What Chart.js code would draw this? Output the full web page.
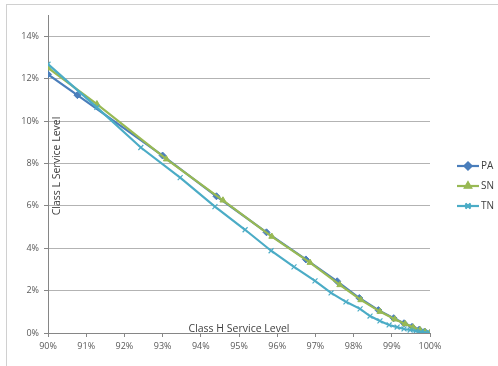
<!DOCTYPE html>
<html>
<head>
<meta charset="utf-8">
<script src="https://cdn.jsdelivr.net/npm/chart.js@4.4.1/dist/chart.umd.min.js"></script>
<style>
  html, body { margin: 0; padding: 0; background: #ffffff; }
  #wrap { width: 498px; height: 366px; position: relative; }
</style>
</head>
<body>
<div id="wrap"><canvas id="c" width="498" height="366"></canvas></div>
<script>
// Class H service level (x, %) against class L service level (y, %)
const seriesNames = ["PA", "SN", "TN"];

const paX = [90, 90.77, 93.0, 94.41, 95.72, 96.75, 97.57, 98.15, 98.65, 99.05, 99.32, 99.53, 99.72, 99.86, 100];
const paY = [12.2, 11.22, 8.37, 6.45, 4.75, 3.47, 2.44, 1.65, 1.08, 0.70, 0.46, 0.29, 0.16, 0.07, 0];

const snX = [90, 91.28, 93.1, 94.58, 95.86, 96.86, 97.64, 98.19, 98.69, 99.08, 99.35, 99.56, 99.74, 99.87, 100];
const snY = [12.5, 10.8, 8.2, 6.26, 4.55, 3.32, 2.27, 1.56, 1.01, 0.65, 0.43, 0.27, 0.14, 0.06, 0];

const tnX = [90, 91.28, 92.43, 93.46, 94.37, 95.16, 95.84, 96.44, 96.99, 97.41, 97.80, 98.17, 98.43, 98.69, 98.93, 99.14, 99.32, 99.48, 99.63, 99.76, 99.87, 100];
const tnY = [12.68, 10.64, 8.75, 7.33, 5.96, 4.87, 3.88, 3.12, 2.46, 1.89, 1.47, 1.14, 0.80, 0.57, 0.38, 0.28, 0.19, 0.14, 0.09, 0.05, 0.02, 0];

const xTickValues = [90, 91, 92, 93, 94, 95, 96, 97, 98, 99, 100];
const yTickValues = [0, 2, 4, 6, 8, 10, 12, 14];

const xTitle = "Class H Service Level";
const yTitle = "Class L Service Level";

const colors = ["#4a7ebb", "#98b954", "#4bacc6"];
const markers = ["rectRot", "triangle", "crossRot"];

const FONT = "'Open Sans', 'Liberation Sans', sans-serif";

function pts(xs, ys) { return xs.map((x, i) => ({ x: x, y: ys[i] })); }

const seriesData = [pts(paX, paY), pts(snX, snY), pts(tnX, tnY)];

const datasets = seriesNames.map((name, i) => ({
  label: name,
  data: seriesData[i],
  showLine: true,
  borderColor: colors[i],
  backgroundColor: colors[i],
  borderWidth: 2.2,
  pointStyle: markers[i],
  pointRadius: i === 2 ? 3.5 : 3.5,
  pointBorderWidth: i === 2 ? 1.2 : 1,
  pointBorderColor: colors[i],
  pointBackgroundColor: colors[i],
  tension: 0,
  order: 3 - i
}));

// Frame, axis titles and legend drawn inside the canvas
const decorations = {
  id: 'decorations',
  beforeDraw(chart) {
    const ctx = chart.ctx;
    ctx.save();
    ctx.strokeStyle = '#d0d0d0';
    ctx.lineWidth = 1;
    ctx.strokeRect(6.5, 4.5, 700, 700);
    ctx.restore();
  },
  afterDatasetsDraw(chart) {
    const ctx = chart.ctx;
    const area = chart.chartArea;
    ctx.save();
    ctx.fillStyle = '#404040';
    ctx.font = '10.5px ' + FONT;
    ctx.textAlign = 'center';
    ctx.textBaseline = 'middle';
    // x title sits on the x axis line
    ctx.fillText(xTitle, 239, 329);
    // y title runs up the inside of the y axis
    ctx.translate(57, 166);
    ctx.rotate(-Math.PI / 2);
    ctx.fillText(yTitle, 0, 0);
    ctx.restore();

    // legend: line sample with marker, then series name
    ctx.save();
    seriesNames.forEach((name, i) => {
      const y = 166 + i * 20;
      ctx.strokeStyle = colors[i];
      ctx.lineWidth = 2.2;
      ctx.beginPath();
      ctx.moveTo(457, y);
      ctx.lineTo(479, y);
      ctx.stroke();
      Chart.helpers.drawPoint(ctx, {
        pointStyle: markers[i], radius: 3.5, rotation: 0, borderWidth: 1
      }, 468, y);
      ctx.fillStyle = colors[i];
      ctx.strokeStyle = colors[i];
      ctx.lineWidth = 1.2;
      Chart.helpers.drawPoint(ctx, {
        pointStyle: markers[i], radius: 3.5, rotation: 0, borderWidth: 1.2
      }, 468, y);
      ctx.fillStyle = '#404040';
      ctx.font = '10px ' + FONT;
      ctx.textAlign = 'left';
      ctx.textBaseline = 'middle';
      ctx.fillText(name, 481, y + 0.5);
    });
    ctx.restore();
  }
};

new Chart(document.getElementById('c'), {
  type: 'scatter',
  data: { datasets: datasets },
  options: {
    responsive: false,
    animation: false,
    devicePixelRatio: 1,
    layout: { padding: { left: 0, top: 15, right: 68, bottom: 0 } },
    plugins: {
      legend: { display: false },
      tooltip: { enabled: false }
    },
    scales: {
      x: {
        type: 'linear',
        min: 90,
        max: 100,
        afterFit(scale) { scale.height = 33; },
        afterBuildTicks(scale) { scale.ticks = xTickValues.map(v => ({ value: v })); },
        border: { color: '#868686', width: 1 },
        grid: { display: true, drawOnChartArea: false, drawTicks: true, tickLength: 4, color: '#868686' },
        ticks: {
          color: '#595959',
          font: { family: FONT, size: 9 },
          padding: 4,
          maxRotation: 0,
          autoSkip: false,
          callback: v => v + '%'
        }
      },
      y: {
        type: 'linear',
        min: 0,
        max: 15,
        afterFit(scale) { scale.width = 48; },
        afterBuildTicks(scale) { scale.ticks = yTickValues.map(v => ({ value: v })); },
        border: { color: '#868686', width: 1 },
        grid: { color: '#b3b3b3', lineWidth: 1, drawTicks: true, tickLength: 4, tickColor: '#868686' },
        ticks: {
          color: '#595959',
          font: { family: FONT, size: 9 },
          padding: 5,
          autoSkip: false,
          callback: v => v + '%'
        }
      }
    }
  },
  plugins: [decorations]
});
</script>
</body>
</html>
